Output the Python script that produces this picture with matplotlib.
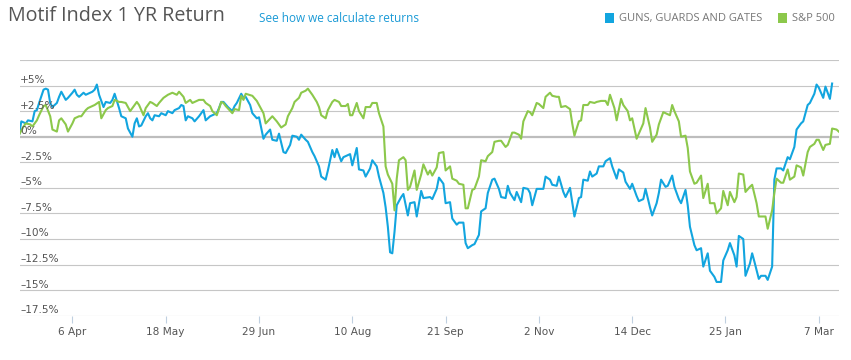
import matplotlib
matplotlib.use("Agg")
import matplotlib.pyplot as plt
import matplotlib.dates as mdates
import matplotlib.transforms as mtransforms
from matplotlib.patches import Rectangle

# ---------------- data ----------------
start_date = "2015-04-06"          # day 0
series_names = ["GUNS, GUARDS AND GATES", "S&P 500"]
series_colors = ["#12a5df", "#8cc84b"]

# (days since start_date, % return)
guns_points = [
    (-24, 0.2), (-23, 1.5), (-21, 1.3), (-20, 1.6), (-18, 1.5), (-17, 2.5), (-16, 2.6), (-15, 3.3),
    (-13, 4.6), (-12, 4.7), (-11, 4.6), (-10, 3.3), (-9, 2.9), (-7, 3.3), (-6, 3.9), (-5, 4.4),
    (-3, 3.6), (-2, 3.8), (0, 4.3), (1, 4.6), (2, 4.1), (3, 3.9), (5, 4.3), (6, 4.1), (8, 4.3),
    (9, 4.4), (10, 4.6), (11, 5.1), (12, 4.1), (14, 2.9), (15, 3.4), (17, 3.3), (18, 3.6), (19, 4.2),
    (21, 2.8), (22, 2.0), (24, 1.8), (25, 0.8), (27, 0.0), (28, 1.3), (29, 1.8), (30, 1.0), (31, 1.1),
    (33, 2.0), (34, 2.3), (35, 1.8), (36, 1.6), (37, 2.1), (39, 2.0), (40, 2.3), (42, 2.1), (43, 2.5),
    (45, 2.3), (46, 2.6), (48, 2.8), (49, 3.1), (50, 3.0), (51, 1.6), (52, 2.0), (54, 1.8), (55, 1.5),
    (57, 2.0), (59, 2.6), (60, 1.6), (62, 2.0), (63, 2.1), (65, 2.3), (66, 2.8), (67, 3.4),
    (68, 3.4), (70, 2.9), (72, 2.5), (73, 3.0), (74, 3.3), (76, 4.2), (77, 3.8), (78, 3.9), (80, 3.1),
    (81, 2.3), (83, 1.8), (84, 1.9), (86, -0.2), (87, 0.2), (89, 0.7), (90, -0.3), (92, -0.4),
    (93, 0.3), (95, -1.5), (96, -1.6), (98, -0.8), (99, 0.1), (101, 0.0), (102, -0.3), (103, 0.2),
    (105, -0.3), (106, -0.5), (108, -1.5), (109, -1.9), (111, -2.9), (112, -3.9), (114, -4.2),
    (115, -3.3), (117, -1.3), (118, -2.0), (119, -1.2), (121, -2.4), (122, -2.0), (124, -1.8),
    (125, -1.7), (126, -2.8), (128, -1.1), (129, -3.2), (131, -3.3), (132, -3.9), (134, -3.1),
    (135, -2.3), (137, -2.9), (138, -3.9), (140, -5.5), (141, -6.9), (142, -8.8), (143, -11.3),
    (144, -11.4), (145, -9.3), (146, -6.7), (148, -5.9), (149, -5.6), (151, -7.7), (152, -6.5),
    (154, -6.4), (155, -7.8), (157, -5.3), (158, -6.0),
    (161, -5.9), (162, -6.1), (164, -5.1), (165, -4.0), (167, -4.6), (168, -6.5), (170, -6.4),
    (171, -8.0), (173, -8.6), (174, -8.4), (176, -8.4), (177, -10.4), (178, -10.9), (180, -10.6),
    (181, -10.5), (183, -9.6), (184, -7.3), (186, -7.0), (187, -5.5), (189, -4.2), (190, -4.1),
    (192, -5.1), (193, -5.9), (195, -6.0), (196, -4.8), (197, -5.5), (199, -6.2), (200, -5.4),
    (202, -6.4), (203, -5.0), (205, -5.1), (206, -5.5), (207, -6.7), (209, -5.1), (210, -5.1),
    (212, -5.1), (213, -3.9), (215, -4.2), (216, -4.7), (218, -4.8), (219, -3.9), (221, -5.4),
    (222, -5.9), (224, -5.0), (225, -6.4), (226, -7.8), (228, -6.0), (229, -5.9), (230, -4.2),
    (232, -4.3), (233, -3.4), (234, -3.9), (236, -3.6), (237, -2.9), (239, -2.9), (240, -2.4),
    (242, -2.1), (243, -2.9), (245, -4.1), (246, -3.2), (248, -3.5), (249, -4.4), (251, -5.1),
    (252, -4.6),
    (254, -5.8), (255, -6.3), (257, -6.1), (258, -5.1), (260, -6.9), (261, -7.7), (263, -6.5),
    (264, -5.5), (265, -4.2), (267, -4.9), (268, -4.8), (270, -3.8), (271, -4.9), (273, -6.1),
    (274, -6.5), (276, -5.2), (277, -6.7), (278, -8.8), (280, -10.6), (281, -11.1), (283, -10.9),
    (284, -12.7), (286, -11.4), (287, -13.1), (289, -13.7), (290, -14.2), (292, -14.2), (293, -12.1),
    (295, -11.1), (296, -10.4), (298, -11.6), (299, -12.7), (300, -9.7), (302, -10.0), (303, -13.6),
    (305, -12.4), (306, -11.4), (307, -12.2), (309, -13.9), (310, -13.6), (312, -13.6), (313, -14.0),
    (315, -12.7), (316, -4.2), (317, -3.1), (319, -3.1), (320, -3.3), (322, -2.0), (323, -2.2),
    (325, -1.0), (326, 0.7), (328, 1.3), (329, 1.5), (331, 3.1), (332, 3.3), (334, 4.2), (335, 5.1),
    (336, 4.8), (338, 3.8), (339, 4.9), (341, 3.7), (342, 5.2),
]

sp500_points = [
    (-24, 0.2), (-22, 1.0), (-21, 1.3), (-19, 1.2), (-18, 1.0), (-16, 1.6), (-15, 2.1), (-13, 3.0),
    (-12, 3.1), (-10, 2.0), (-9, 0.7), (-7, 0.5), (-6, 1.6), (-5, 1.8), (-3, 1.2), (-2, 0.5),
    (0, 1.3), (1, 1.8), (3, 2.0), (4, 2.0), (6, 2.6), (7, 2.8), (9, 3.0), (10, 3.1), (12, 3.4),
    (13, 1.8), (15, 2.6), (16, 2.8), (18, 3.0), (19, 3.6), (21, 3.4), (22, 3.4), (24, 3.3), (26, 2.5),
    (27, 2.8), (29, 3.4), (30, 3.1), (32, 2.1), (33, 2.8), (35, 3.4), (36, 3.3), (38, 3.0), (39, 3.3),
    (41, 3.8), (43, 4.1), (45, 4.3), (47, 4.1), (48, 4.4), (50, 3.9), (51, 3.3), (53, 3.6), (54, 3.3),
    (57, 3.6), (59, 3.6), (60, 3.3), (62, 3.0), (63, 2.5), (65, 2.1), (67, 3.4),
    (68, 3.3), (69, 3.0), (72, 2.3), (73, 2.7), (75, 2.6), (76, 4.0), (77, 3.6), (78, 4.2), (81, 4.0),
    (83, 3.5), (84, 3.1), (86, 2.3), (87, 1.3), (90, 2.0), (92, 1.5), (94, 0.9), (96, 1.2), (97, 2.0),
    (99, 2.8), (100, 3.4), (102, 3.8), (103, 4.3), (105, 4.5), (106, 4.7), (108, 4.1), (110, 3.4),
    (111, 2.9), (112, 2.1), (114, 1.8), (115, 2.6), (117, 3.4), (118, 3.6), (120, 3.4), (121, 3.0),
    (123, 3.0), (124, 3.2), (125, 2.1), (126, 2.1), (128, 3.3), (129, 2.5), (131, 1.8), (132, 2.9),
    (134, 2.9), (135, 3.3), (137, 3.3), (138, 2.3), (140, 1.0), (141, -2.9), (142, -3.7), (144, -4.6),
    (145, -7.2), (146, -4.1), (147, -2.3), (149, -2.0), (150, -2.3), (151, -5.2), (152, -4.9),
    (154, -3.3), (155, -5.2), (157, -3.7), (158, -2.7),
    (160, -3.7), (161, -3.3), (162, -3.8), (164, -3.0), (165, -1.6), (167, -1.5), (168, -3.3),
    (170, -2.9), (171, -4.1), (173, -4.3), (174, -4.6), (176, -4.7), (177, -7.0), (178, -7.0),
    (180, -5.2), (181, -5.1), (183, -3.9), (184, -2.3), (186, -2.4), (187, -1.9), (189, -1.5),
    (190, -0.5), (192, -0.4), (193, -0.4), (195, -1.0), (196, -0.8), (198, 0.4), (199, 0.4),
    (201, 0.2), (202, -0.2), (203, 1.5), (205, 2.5), (206, 2.4), (207, 2.1), (209, 3.3), (210, 3.2),
    (212, 2.8), (213, 3.9), (215, 4.3), (216, 4.0), (218, 3.9), (219, 3.9), (220, 2.9), (222, 3.0),
    (224, 2.7), (225, 1.3), (226, 0.1), (228, 1.5), (229, 1.6), (230, 3.1), (232, 3.1), (233, 3.4),
    (235, 3.3), (236, 3.4), (238, 3.5), (240, 3.5), (241, 3.1), (242, 4.1), (244, 2.8), (245, 1.6),
    (247, 3.7), (248, 3.1), (250, 2.5), (251, 1.6), (252, 1.8),
    (254, -0.2), (255, 0.3), (257, 1.3), (258, 2.8), (260, 0.9), (261, -0.5), (263, 0.2), (264, 1.2),
    (266, 2.4), (267, 2.3), (269, 2.1), (270, 3.1), (271, 2.5), (273, 1.5), (274, 0.0), (276, 0.1),
    (277, -1.1), (278, -3.4), (280, -4.6), (281, -4.5), (283, -3.8), (284, -6.0), (286, -4.6),
    (287, -6.5), (289, -6.5), (290, -7.5), (292, -7.0), (293, -5.3), (295, -6.7), (296, -5.4),
    (298, -6.4), (299, -5.9), (300, -3.6), (302, -3.7), (303, -5.4), (305, -4.9), (306, -4.7),
    (308, -6.5), (309, -7.8), (311, -7.8), (312, -7.8), (313, -9.0), (315, -7.2), (316, -5.5),
    (317, -4.1), (319, -4.5), (320, -4.5), (322, -3.2), (323, -4.2), (325, -3.9), (326, -2.8),
    (328, -3.0), (329, -3.8), (331, -1.5), (332, -1.0), (334, -0.7), (335, -0.3), (336, -0.3),
    (338, -1.3), (339, -0.8), (341, -0.7), (342, 0.8), (344, 0.7), (345, 0.5),
]

y_ticks = [7.5, 5, 2.5, 0, -2.5, -5, -7.5, -10, -12.5, -15, -17.5]
y_tick_labels = ["", "+5%", "+2.5%", "0%", "–2.5%", "–5%", "–7.5%", "–10%", "–12.5%", "–15%", "–17.5%"]
x_tick_dates = ["2015-04-06", "2015-05-18", "2015-06-29", "2015-08-10", "2015-09-21",
                "2015-11-02", "2015-12-14", "2016-01-25", "2016-03-07"]
x_tick_labels = ["6 Apr", "18 May", "29 Jun", "10 Aug", "21 Sep", "2 Nov", "14 Dec", "25 Jan", "7 Mar"]

title = "Motif Index 1 YR Return"
link_text = "See how we calculate returns"

# ---------------- plot ----------------
W, H = 851, 360
fig = plt.figure(figsize=(W / 100, H / 100), dpi=100)
ax = fig.add_axes([20 / W, 1 - 315.7 / H, 819 / W, 255.7 / H])

base = mdates.datestr2num(start_date)

def to_xy(points):
    d, v = zip(*points)
    return [base + x for x in d], list(v)

gx, gy = to_xy(guns_points)
sx, sy = to_xy(sp500_points)
ax.plot(gx, gy, color=series_colors[0], lw=1.5, solid_joinstyle="round", zorder=3)
ax.plot(sx, sy, color=series_colors[1], lw=1.5, solid_joinstyle="round", zorder=4)

ax.set_xlim(base - 23.6, base + 345.1)
ax.set_ylim(-17.5, 7.5)

for v in y_ticks:
    if v == 0:
        ax.axhline(v, color="#bdbdbd", lw=1.6, zorder=1)
    else:
        ax.axhline(v, color="#c6c6c6", lw=0.8, zorder=1)

trans = mtransforms.blended_transform_factory(ax.transAxes, ax.transData)
offset = mtransforms.ScaledTranslation(0, 2.5 / 100, fig.dpi_scale_trans)
for v, lab in zip(y_ticks, y_tick_labels):
    if lab:
        ax.text(0, v, lab, transform=trans + offset, ha="left", va="baseline",
                fontsize=7.6, color="#555555", family="DejaVu Sans", zorder=5)

for s in ax.spines.values():
    s.set_visible(False)
ax.set_yticks([])
ax.set_xticks([mdates.datestr2num(d) for d in x_tick_dates])
ax.set_xticklabels(x_tick_labels)
ax.tick_params(axis="x", length=5, width=0.8, color="#c0d0e0", pad=3,
               labelsize=7.6, labelcolor="#555555")

fig.text(8 / W, 1 - 16 / H, title, fontsize=14.2, family="Open Sans",
         color="#555555", va="center", ha="left")
fig.text(259 / W, 1 - 18.3 / H, link_text, fontsize=8.5, family="Open Sans",
         color="#1a9ad6", va="center", ha="left")

legend_x = [605, 777.7]
for xpx, name, col in zip(legend_x, series_names, series_colors):
    fig.patches.append(Rectangle((xpx / W, 1 - 22.7 / H), 9.3 / W, 9.4 / H,
                                 transform=fig.transFigure, color=col, lw=0))
    fig.text((xpx + 14.3) / W, 1 - 18.3 / H, name, fontsize=8, family="Open Sans",
             color="#777777", va="center", ha="left")

fig.savefig("out.png", dpi=100)
